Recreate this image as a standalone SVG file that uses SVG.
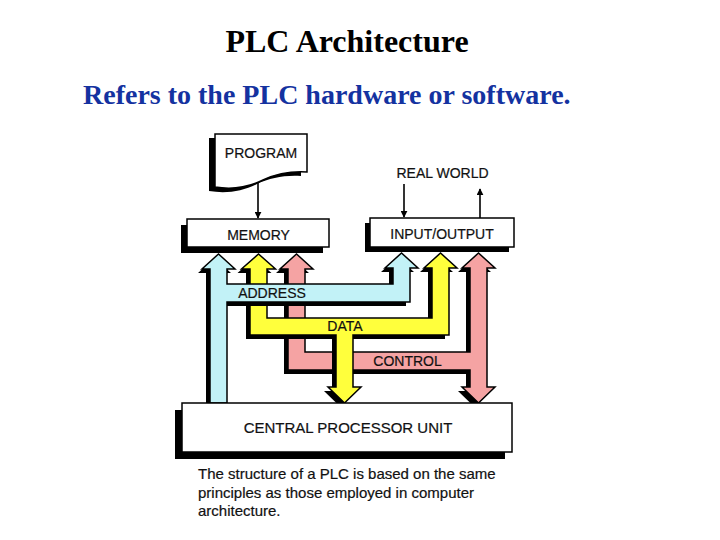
<svg xmlns="http://www.w3.org/2000/svg" width="720" height="540" viewBox="0 0 720 540">
<style>
.title{font-family:"Liberation Serif","Times New Roman",serif;font-weight:bold;}
.lbl{font-family:"Liberation Sans",Arial,sans-serif;font-size:14px;fill:#111;stroke:#111;stroke-width:0.2;}
.big{font-size:15px;}
.box{fill:#fff;stroke:#000;stroke-width:1.5;}
.shd{fill:#000;}
.bus{stroke:#000;stroke-width:1.5;stroke-linejoin:miter;}
.ln{stroke:#000;stroke-width:1.6;fill:none;}
</style>
<defs>
<marker id="ah" viewBox="0 0 10 10" refX="9" refY="5" markerWidth="7" markerHeight="7" orient="auto" markerUnits="userSpaceOnUse">
<path d="M0,0 L10,5 L0,10 Z" fill="#000"/>
</marker>
</defs>
<rect width="720" height="540" fill="#fff"/>
<text class="title" x="347" y="52" font-size="32" text-anchor="middle" fill="#000">PLC Architecture</text>
<text class="title" x="83" y="104" font-size="28" fill="#1432a0">Refers to the PLC hardware or software.</text>

<g id="connectors">
  <path class="ln" d="M258,182 V218" marker-end="url(#ah)"/>
  <path class="ln" d="M404,184 V217" marker-end="url(#ah)"/>
  <path class="ln" d="M480,218 V189" marker-end="url(#ah)"/>
  <g id="control-bus">
    <path class="shd" transform="translate(-4,4)" d="M288,370 V269 H280 L296.5,254 L313,269 H305 V352 H470 V268 H462 L478.5,253 L495,268 H487 V387 H495 L478.5,403 L462,387 H470 V370 Z"/>
    <path class="bus" fill="#f5a3a3" d="M288,370 V269 H280 L296.5,254 L313,269 H305 V352 H470 V268 H462 L478.5,253 L495,268 H487 V387 H495 L478.5,403 L462,387 H470 V370 Z"/>
    <text class="lbl" x="407.5" y="366" text-anchor="middle">CONTROL</text>
  </g>
  <g id="data-bus">
    <path class="shd" transform="translate(-4,4)" d="M250,335 V269 H241.5 L258.5,254 L275.5,269 H267 V318 H432 V268 H424 L440.5,253 L457,268 H449 V335 H353 V387 H361 L344.5,403 L328,387 H336 V335 Z"/>
    <path class="bus" fill="#ffff3c" d="M250,335 V269 H241.5 L258.5,254 L275.5,269 H267 V318 H432 V268 H424 L440.5,253 L457,268 H449 V335 H353 V387 H361 L344.5,403 L328,387 H336 V335 Z"/>
    <text class="lbl" x="345" y="331" text-anchor="middle">DATA</text>
  </g>
  <g id="address-bus">
    <path class="shd" transform="translate(-4,4)" d="M210,403 V269 H202 L218.5,254 L235,269 H227 V284 H393 V268 H385 L401.5,253 L418,268 H410 V302 H227 V403 Z"/>
    <path class="bus" fill="#c2f2f7" d="M210,403 V269 H202 L218.5,254 L235,269 H227 V284 H393 V268 H385 L401.5,253 L418,268 H410 V302 H227 V403 Z"/>
    <text class="lbl" x="272" y="298" text-anchor="middle">ADDRESS</text>
  </g>
</g>

<g id="program">
  <path class="shd" transform="translate(-6,4)" d="M215,134 H307 V172 C290,171 276,174 263,180 C249,187 233,190 215,187 Z"/>
  <path class="box" d="M215,134 H307 V172 C290,171 276,174 263,180 C249,187 233,190 215,187 Z"/>
  <text class="lbl" x="261" y="158" text-anchor="middle">PROGRAM</text>
</g>

<g id="memory">
  <rect class="shd" x="181" y="225" width="142" height="28"/>
  <rect class="box" x="187" y="219" width="142" height="28"/>
  <text class="lbl" x="258.5" y="240" text-anchor="middle">MEMORY</text>
</g>

<g id="real-world">
  <text class="lbl" x="442.5" y="178" text-anchor="middle">REAL WORLD</text>
</g>

<g id="io">
  <rect class="shd" x="365" y="223" width="144" height="29"/>
  <rect class="box" x="370" y="218" width="144" height="29"/>
  <text class="lbl" x="442" y="239" text-anchor="middle">INPUT/OUTPUT</text>
</g>

<g id="cpu">
  <rect class="shd" x="175" y="410" width="330" height="49"/>
  <rect class="box" x="182" y="403" width="330" height="49"/>
  <text class="lbl big" x="348" y="433" text-anchor="middle">CENTRAL PROCESSOR UNIT</text>
</g>

<g id="caption">
  <text class="lbl big" x="198" y="479">The structure of a PLC is based on the same</text>
  <text class="lbl big" x="198" y="498">principles as those employed in computer</text>
  <text class="lbl big" x="198" y="516">architecture.</text>
</g>
</svg>
